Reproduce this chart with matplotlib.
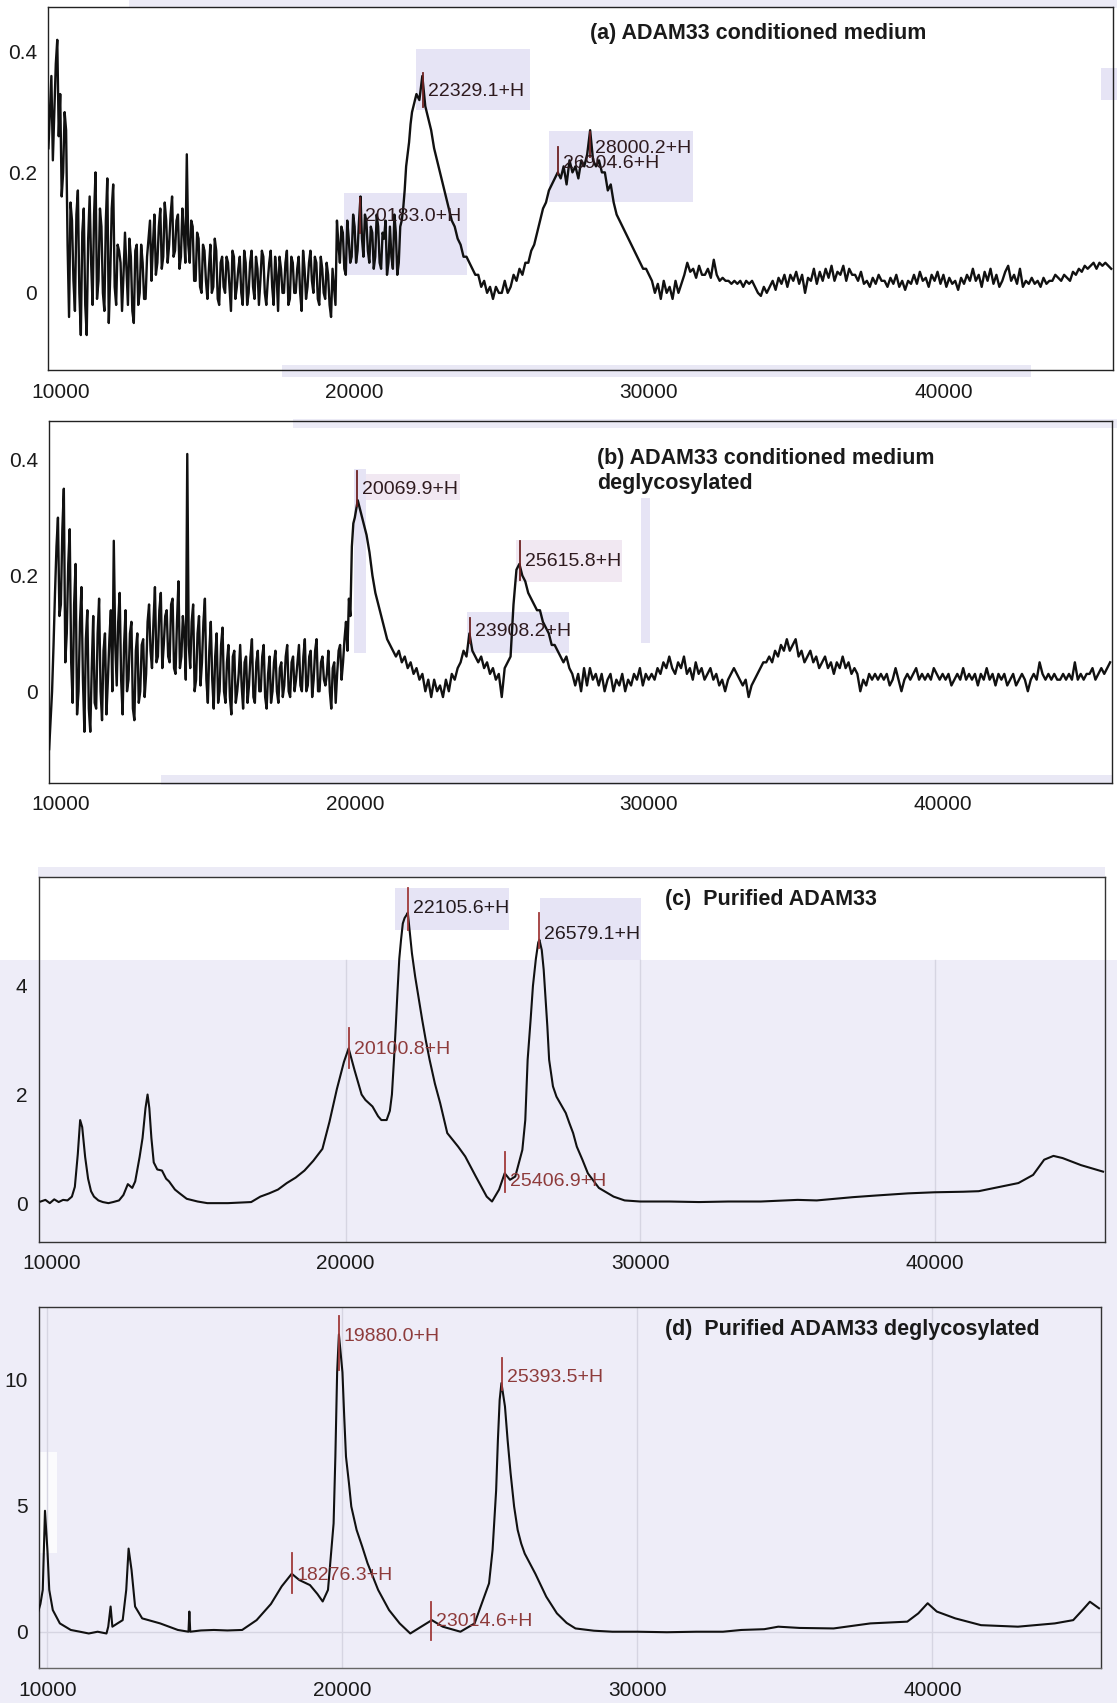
import numpy as np
import matplotlib
matplotlib.use("Agg")
import matplotlib.pyplot as plt
from matplotlib.patches import Rectangle

plt.rcParams['font.family'] = ['Liberation Sans', 'DejaVu Sans']

# ---------------------------------------------------------------- data
# (a) conditioned medium, sampled every 100 Da from 9600 Da
a_start, a_step = 9600, 100
a_rows = [
    [0.24, 0.36, 0.30, 0.42],
    [0.33, 0.20, 0.27, -0.04, 0.12, -0.03, 0.17, -0.07, 0.14, -0.07],
    [0.16, -0.02, 0.20, 0.02, 0.11, -0.03, 0.19, 0.03, 0.18, -0.02],
    [0.07, -0.03, 0.10, -0.02, 0.06, -0.05, 0.08, 0.00, 0.05, -0.01],
    [0.09, 0.02, 0.13, 0.05, 0.14, 0.06, 0.12, 0.08, 0.16, 0.07],
    [0.13, 0.06, 0.10, 0.23, 0.05, 0.11, 0.02, 0.09, 0.00, 0.07],
    [-0.01, 0.08, 0.01, 0.07, -0.02, 0.06, 0.00, 0.05, -0.03, 0.06],
    [0.01, 0.06, -0.02, 0.05, 0.00, 0.07, -0.01, 0.04, 0.02, 0.06],
    [-0.02, 0.05, 0.01, 0.06, -0.03, 0.04, 0.00, 0.07, -0.01, 0.05],
    [0.00, 0.06, -0.03, 0.04, 0.01, 0.07, 0.00, 0.05, -0.02, 0.04],
    [-0.01, 0.03, -0.04, 0.01, 0.12, 0.05, 0.10, 0.03, 0.09, 0.06],
    [0.11, 0.07, 0.16, 0.06, 0.12, 0.05, 0.10, 0.06, 0.11, 0.04],
    [0.09, 0.03, 0.11, 0.04, 0.10, 0.05, 0.12, 0.17, 0.23, 0.28],
    [0.31, 0.33, 0.32, 0.36, 0.31, 0.29, 0.27, 0.24, 0.22, 0.20],
    [0.18, 0.16, 0.14, 0.12, 0.11, 0.09, 0.08, 0.06, 0.06, 0.05],
    [0.04, 0.03, 0.03, 0.01, 0.02, 0.00, 0.01, -0.01, 0.01, 0.00],
    [0.00, 0.02, 0.00, 0.01, 0.03, 0.02, 0.04, 0.03, 0.05, 0.05],
    [0.07, 0.08, 0.10, 0.12, 0.14, 0.15, 0.17, 0.18, 0.19, 0.20],
    [0.19, 0.21, 0.18, 0.22, 0.20, 0.21, 0.19, 0.22, 0.21, 0.23],
    [0.27, 0.22, 0.21, 0.22, 0.20, 0.20, 0.17, 0.18, 0.15, 0.13],
    [0.12, 0.11, 0.10, 0.09, 0.08, 0.07, 0.06, 0.05, 0.04, 0.04],
    [0.03, 0.02, 0.00, 0.015, -0.01, 0.02, 0.00, 0.01, -0.01, 0.02],
    [0.00, 0.015, 0.03, 0.05, 0.035, 0.04, 0.025, 0.045, 0.03, 0.03],
    [0.04, 0.025, 0.055, 0.03, 0.02, 0.025, 0.02, 0.02, 0.015, 0.02],
    [0.015, 0.02, 0.01, 0.02, 0.015, 0.02, 0.01, 0.00, -0.005, 0.01],
    [0.00, 0.01, 0.02, 0.005, 0.025, 0.015, 0.03, 0.01, 0.03, 0.02],
    [0.035, 0.015, 0.03, 0.00, 0.025, 0.02, 0.04, 0.015, 0.035, 0.02],
    [0.04, 0.025, 0.045, 0.02, 0.035, 0.03, 0.045, 0.02, 0.04, 0.03],
    [0.03, 0.02, 0.035, 0.015, 0.02, 0.01, 0.025, 0.015, 0.03, 0.02],
    [0.02, 0.01, 0.025, 0.015, 0.03, 0.01, 0.02, 0.005, 0.02, 0.015],
    [0.03, 0.015, 0.035, 0.02, 0.025, 0.01, 0.03, 0.02, 0.035, 0.015],
    [0.03, 0.01, 0.025, 0.015, 0.02, 0.005, 0.025, 0.015, 0.03, 0.02],
    [0.04, 0.02, 0.03, 0.01, 0.035, 0.02, 0.04, 0.015, 0.03, 0.01],
    [0.02, 0.035, 0.045, 0.02, 0.03, 0.015, 0.04, 0.01, 0.02, 0.015],
    [0.025, 0.015, 0.02, 0.01, 0.025, 0.015, 0.02, 0.02, 0.03, 0.025],
    [0.02, 0.03, 0.025, 0.02, 0.035, 0.03, 0.04, 0.035, 0.045, 0.04],
    [0.045, 0.05, 0.04, 0.05, 0.045, 0.05, 0.045, 0.04],
]
# (a) extra readings in the noisy low-mass region, every 100 Da from 9650 Da
a_fine_start = 9650
a_fine_rows = [
    [0.30, 0.22, 0.38, 0.26],
    [0.16, 0.30, 0.08, 0.15, 0.02, 0.13, 0.00, 0.10, -0.02, 0.09],
    [0.05, 0.13, -0.01, 0.14, 0.00, 0.12, -0.05, 0.14, 0.01, 0.08],
    [0.05, 0.03, 0.04, 0.09, -0.03, 0.07, -0.02, 0.08, -0.01, 0.06],
    [0.12, 0.08, 0.03, 0.11, 0.04, 0.15, 0.05, 0.13, 0.06, 0.12],
    [0.04, 0.14, 0.05, 0.08, 0.12, 0.02, 0.10, 0.01, 0.08, 0.02],
    [0.04, 0.00, 0.09, -0.01, 0.05, 0.01, 0.06, 0.01, 0.07, -0.01],
    [0.04, 0.00, 0.07, -0.02, 0.05, 0.01, 0.06, -0.02, 0.07, 0.00],
    [0.02, 0.07, -0.02, 0.03, 0.06, 0.00, 0.05, -0.02, 0.06, 0.00],
    [0.04, 0.00, 0.07, -0.01, 0.05, 0.02, 0.06, -0.01, 0.06, 0.00],
    [0.05, -0.02, 0.04, -0.02, 0.08, 0.11, 0.04, 0.12, 0.05, 0.13],
    [0.05, 0.12, 0.09, 0.13, 0.07, 0.11, 0.04, 0.13, 0.05, 0.10],
    [0.12, 0.05, 0.06, 0.13, 0.03, 0.11, 0.14, 0.21, 0.25, 0.30],
]

# (b) conditioned medium, deglycosylated, sampled every 100 Da from 9600 Da
b_start, b_step = 9600, 100
b_rows = [
    [-0.10, 0.00, 0.17, 0.30],
    [0.15, 0.35, 0.10, 0.28, -0.02, 0.22, 0.00, 0.18, -0.07, 0.14],
    [-0.07, 0.13, -0.03, 0.16, -0.05, 0.10, 0.02, 0.14, 0.26, 0.01],
    [0.17, -0.04, 0.14, 0.02, 0.12, -0.05, 0.10, 0.00, 0.09, 0.03],
    [0.15, 0.04, 0.18, 0.06, 0.17, 0.08, 0.14, 0.05, 0.16, 0.03],
    [0.19, 0.06, 0.10, 0.41, 0.04, 0.15, 0.02, 0.13, 0.05, 0.16],
    [-0.02, 0.12, -0.03, 0.10, 0.00, 0.11, -0.02, 0.08, -0.04, 0.07],
    [0.00, 0.08, -0.03, 0.06, 0.01, 0.09, -0.02, 0.07, 0.00, 0.08],
    [-0.03, 0.06, 0.00, 0.07, -0.02, 0.05, 0.01, 0.08, -0.01, 0.06],
    [0.02, 0.08, 0.00, 0.09, 0.01, 0.07, 0.02, 0.09, 0.00, 0.06],
    [0.01, 0.07, -0.03, 0.05, 0.03, 0.08, 0.05, 0.12, 0.16, 0.25],
    [0.30, 0.33, 0.31, 0.29, 0.27, 0.24, 0.20, 0.17, 0.15, 0.13],
    [0.11, 0.09, 0.08, 0.07, 0.06, 0.07, 0.05, 0.06, 0.04, 0.05],
    [0.03, 0.04, 0.02, 0.03, 0.00, 0.02, -0.01, 0.02, 0.00, 0.01],
    [-0.01, 0.02, 0.00, 0.03, 0.02, 0.04, 0.05, 0.07, 0.06, 0.10],
    [0.07, 0.06, 0.05, 0.06, 0.04, 0.05, 0.03, 0.04, 0.02, 0.03],
    [-0.01, 0.04, 0.05, 0.06, 0.15, 0.21, 0.22, 0.20, 0.19, 0.17],
    [0.16, 0.15, 0.14, 0.14, 0.12, 0.11, 0.10, 0.08, 0.08, 0.07],
    [0.06, 0.05, 0.06, 0.04, 0.03, 0.01, 0.03, 0.00, 0.04, 0.01],
    [0.04, 0.02, 0.03, 0.01, 0.03, 0.00, 0.02, 0.03, 0.00, 0.02],
    [0.01, 0.03, 0.00, 0.02, 0.01, 0.03, 0.02, 0.04, 0.01, 0.03],
    [0.02, 0.03, 0.02, 0.04, 0.03, 0.05, 0.04, 0.06, 0.04, 0.03],
    [0.05, 0.04, 0.06, 0.03, 0.04, 0.02, 0.05, 0.03, 0.04, 0.02],
    [0.03, 0.04, 0.02, 0.03, 0.01, 0.02, 0.00, 0.02, 0.03, 0.04],
    [0.03, 0.02, 0.01, 0.02, -0.01, 0.01, 0.02, 0.03, 0.04, 0.05],
    [0.05, 0.06, 0.05, 0.07, 0.06, 0.08, 0.07, 0.09, 0.07, 0.08],
    [0.09, 0.06, 0.07, 0.05, 0.06, 0.07, 0.05, 0.06, 0.04, 0.05],
    [0.06, 0.04, 0.05, 0.03, 0.05, 0.04, 0.06, 0.04, 0.05, 0.03],
    [0.04, 0.03, 0.00, 0.02, 0.01, 0.03, 0.02, 0.03, 0.02, 0.03],
    [0.02, 0.03, 0.01, 0.02, 0.04, 0.02, 0.00, 0.02, 0.03, 0.02],
    [0.03, 0.04, 0.02, 0.03, 0.02, 0.03, 0.02, 0.04, 0.03, 0.02],
    [0.03, 0.02, 0.03, 0.01, 0.02, 0.03, 0.02, 0.04, 0.02, 0.03],
    [0.02, 0.03, 0.01, 0.03, 0.02, 0.04, 0.02, 0.03, 0.01, 0.03],
    [0.02, 0.03, 0.01, 0.02, 0.03, 0.01, 0.02, 0.03, 0.02, 0.00],
    [0.02, 0.03, 0.02, 0.05, 0.03, 0.02, 0.03, 0.02, 0.03, 0.02],
    [0.02, 0.03, 0.02, 0.03, 0.02, 0.05, 0.02, 0.03, 0.02, 0.03],
    [0.03, 0.04, 0.02, 0.03, 0.04, 0.03, 0.04, 0.05],
]
# (b) extra readings in the noisy low-mass region, every 100 Da from 9650 Da
b_fine_start = 9650
b_fine_rows = [
    [-0.05, 0.08, 0.25, 0.13],
    [0.28, 0.05, 0.22, 0.05, 0.15, -0.04, 0.12, 0.02, 0.09, -0.03],
    [0.04, -0.02, 0.10, 0.00, 0.07, -0.04, 0.09, 0.00, 0.08, 0.12],
    [0.02, 0.08, 0.00, 0.10, -0.03, 0.07, -0.02, 0.08, -0.01, 0.12],
    [0.07, 0.12, 0.05, 0.14, 0.04, 0.13, 0.06, 0.15, 0.04, 0.12],
    [0.04, 0.13, 0.02, 0.08, 0.12, 0.00, 0.10, 0.01, 0.12, 0.02],
    [0.07, 0.02, 0.06, -0.02, 0.08, 0.00, 0.05, -0.01, 0.06, -0.02],
    [0.03, 0.01, 0.05, -0.02, 0.06, -0.01, 0.05, 0.00, 0.06, -0.01],
    [0.03, -0.02, 0.05, 0.00, 0.04, -0.01, 0.06, 0.00, 0.05, 0.00],
    [0.05, 0.01, 0.06, 0.00, 0.06, -0.01, 0.07, 0.00, 0.05, 0.02],
    [0.03, 0.00, 0.04, -0.02, 0.07, 0.02, 0.09, 0.07, 0.13, 0.29],
]

# (c) purified ADAM33
c_mass = [9640, 9800, 9950, 10100, 10250, 10400, 10550, 10700, 10800, 10900,
          10980, 11050, 11150, 11250, 11350, 11450, 11600, 11750, 11940, 12100,
          12300, 12450, 12600, 12750, 12850, 13000, 13100, 13200, 13270, 13330,
          13400, 13480, 13600, 13760, 13900, 14000, 14200, 14360, 14600, 14970,
          15300, 15600, 16000, 16400, 16790, 17100, 17400, 17700, 18000, 18300,
          18600, 18900, 19210, 19450, 19700, 19940, 20100, 20300, 20540, 20670,
          20910, 21100, 21210, 21390, 21500, 21570, 21640, 21700, 21760, 21820,
          21880, 21940, 22000, 22060, 22110, 22180, 22250, 22360, 22470, 22600,
          22720, 22850, 23030, 23210, 23450, 23820, 24060, 24420, 24790, 24970,
          25210, 25400, 25580, 25760, 26000, 26100, 26180, 26280, 26360, 26460,
          26540, 26580, 26660, 26725, 26850, 26910, 27040, 27160, 27350, 27475,
          27600, 27725, 27850, 28040, 28225, 28600, 29100, 29475, 30000, 31000,
          32000, 33000, 34100, 35350, 36000, 37225, 38000, 39100, 40000, 40975,
          41500, 42225, 42850, 43350, 43725, 44040, 44350, 44975, 45725]
c_int = [0.03, 0.06, 0.00, 0.07, 0.02, 0.06, 0.05, 0.12, 0.30, 0.90,
         1.53, 1.40, 0.85, 0.45, 0.22, 0.12, 0.05, 0.02, 0.00, 0.02,
         0.05, 0.15, 0.35, 0.28, 0.40, 0.85, 1.20, 1.75, 2.00, 1.75,
         1.20, 0.75, 0.62, 0.60, 0.45, 0.40, 0.25, 0.18, 0.08, 0.03,
         0.00, 0.00, 0.00, 0.01, 0.02, 0.12, 0.18, 0.25, 0.37, 0.47,
         0.60, 0.78, 1.00, 1.50, 2.10, 2.60, 2.85, 2.45, 2.00, 1.90,
         1.78, 1.60, 1.53, 1.53, 1.70, 2.00, 2.64, 3.25, 3.90, 4.50,
         4.85, 5.15, 5.25, 5.30, 5.35, 4.97, 4.60, 4.17, 3.80, 3.37,
         3.00, 2.64, 2.20, 1.84, 1.29, 1.04, 0.86, 0.49, 0.12, 0.03,
         0.25, 0.55, 0.43, 0.49, 0.98, 1.53, 2.64, 3.37, 4.00, 4.50,
         4.80, 4.85, 4.66, 4.30, 3.25, 2.64, 2.15, 1.96, 1.78, 1.66,
         1.47, 1.29, 1.04, 0.80, 0.55, 0.28, 0.12, 0.05, 0.03, 0.03,
         0.02, 0.03, 0.03, 0.06, 0.05, 0.11, 0.14, 0.18, 0.20, 0.21,
         0.22, 0.30, 0.37, 0.52, 0.80, 0.87, 0.83, 0.70, 0.58]

# (d) purified ADAM33, deglycosylated
d_mass = [9670, 9760, 9840, 9915, 10000, 10060, 10180, 10420, 10790, 11100,
          11400, 11700, 12000, 12060, 12140, 12200, 12400, 12550, 12670, 12750,
          12850, 12970, 13210, 13820, 14420, 14780, 14810, 14840, 15200, 15640,
          16100, 16600, 17090, 17575, 17940, 18280, 18540, 18900, 19150, 19330,
          19510, 19700, 19760, 19820, 19880, 20000, 20060, 20120, 20220, 20300,
          20480, 20670, 20850, 21030, 21210, 21580, 21940, 22300, 22670, 23030,
          23400, 24000, 24480, 24970, 25090, 25210, 25270, 25330, 25390, 25510,
          25600, 25700, 25820, 25940, 26060, 26180, 26360, 26540, 26910, 27270,
          27600, 27900, 28525, 29150, 30000, 31000, 32000, 32900, 33525, 34300,
          34775, 35500, 36650, 37900, 39150, 39525, 39840, 40150, 40775, 41650,
          42900, 44150, 44775, 45090, 45340, 45650]
d_int = [0.73, 1.10, 1.66, 4.80, 3.20, 1.66, 0.86, 0.33, 0.07, 0.00,
         -0.07, 0.00, -0.07, 0.20, 1.00, 0.20, 0.35, 0.46, 1.66, 3.30,
         2.45, 1.00, 0.53, 0.33, 0.07, 0.00, 0.80, 0.00, 0.05, 0.07,
         0.05, 0.07, 0.46, 1.10, 1.80, 2.30, 2.05, 1.85, 1.50, 1.20,
         1.66, 4.30, 6.95, 10.30, 11.80, 10.30, 8.54, 6.95, 5.90, 4.97,
         4.04, 3.38, 2.72, 2.19, 1.66, 0.86, 0.33, -0.07, 0.20, 0.46,
         0.20, 0.00, 0.33, 1.92, 3.25, 5.60, 7.60, 9.20, 9.87, 8.94,
         7.60, 6.30, 4.97, 4.04, 3.50, 3.10, 2.70, 2.30, 1.39, 0.73,
         0.35, 0.13, 0.04, 0.00, 0.00, -0.02, 0.00, 0.00, 0.07, 0.10,
         0.20, 0.15, 0.13, 0.33, 0.40, 0.73, 1.13, 0.80, 0.53, 0.26,
         0.20, 0.33, 0.46, 0.86, 1.19, 0.93]

# peak annotations: (mass, label, marker bottom, marker top, text y)
a_peaks = [(22329.1, "22329.1+H", 0.308, 0.365, 0.334),
           (20183.0, "20183.0+H", 0.099, 0.158, 0.126),
           (28000.2, "28000.2+H", 0.226, 0.267, 0.240),
           (26904.6, "26904.6+H", 0.198, 0.242, 0.215)]
b_peaks = [(20069.9, "20069.9+H", 0.320, 0.380, 0.348),
           (25615.8, "25615.8+H", 0.193, 0.259, 0.225),
           (23908.2, "23908.2+H", 0.084, 0.127, 0.104)]
c_peaks = [(22105.6, "22105.6+H", 5.03, 5.80, 5.43),
           (26579.1, "26579.1+H", 4.70, 5.34, 4.94),
           (20100.8, "20100.8+H", 2.49, 3.22, 2.82),
           (25406.9, "25406.9+H", 0.21, 0.95, 0.40)]
d_peaks = [(19880.0, "19880.0+H", 10.4, 12.52, 11.72),
           (25393.5, "25393.5+H", 9.6, 10.87, 10.10),
           (18276.3, "18276.3+H", 1.53, 3.12, 2.25),
           (23014.6, "23014.6+H", -0.33, 1.19, 0.40)]

x_ticks = [10000, 20000, 30000, 40000]
x_tick_labels = ["10000", "20000", "30000", "40000"]
a_yticks, a_ylabels = [0, 0.2, 0.4], ["0", "0.2", "0.4"]
c_yticks, c_ylabels = [0, 2, 4], ["0", "2", "4"]
d_yticks, d_ylabels = [0, 5, 10], ["0", "5", "10"]

# ---------------------------------------------------------------- figure
W, H = 1117, 1703
fig = plt.figure(figsize=(W / 100, H / 100), dpi=100)
fig.patch.set_facecolor("white")

LAV = "#eeedf8"
BOX = "#e6e4f5"
PINK = "#f1e8f2"


def px_rect(x0, y0, x1, y1, color, z=-1.0):
    fig.patches.append(Rectangle((x0 / W, 1 - y1 / H), (x1 - x0) / W, (y1 - y0) / H,
                                 transform=fig.transFigure, facecolor=color,
                                 edgecolor="none", zorder=z))


def px_axes(left, top, right, bottom):
    ax = fig.add_axes([left / W, 1 - bottom / H, (right - left) / W, (bottom - top) / H])
    ax.set_facecolor("none")
    return ax


# tinted lower part of the sheet
px_rect(0, 960, W, H, LAV, z=-2)
px_rect(38.6, 877.3, 1105, 960, "white", z=-1.5)
px_rect(38.6, 1452, 57, 1553, "#fbfbfd", z=-1.4)

# shaded strips and label boxes
px_rect(129, 0, W, 8, "#ecebf6")
px_rect(282, 365, 1031, 377, "#e9e8f5")
px_rect(1101, 68, 1117, 100, BOX)
px_rect(416, 49, 530, 110, BOX)
px_rect(344, 193, 467, 275, BOX)
px_rect(549, 131, 693, 202, BOX)
px_rect(293, 419, W, 428, "#ecebf6")
px_rect(161, 775, 1112, 785, "#e9e8f5")
px_rect(353.6, 469, 366, 653, BOX)
px_rect(366, 474, 460, 500, PINK)
px_rect(516, 540, 622, 582, PINK)
px_rect(467, 612, 569, 653, BOX)
px_rect(641, 498, 650, 643, BOX)
px_rect(37.5, 867, 1105, 877, "#ecebf6")
px_rect(394.6, 888, 509, 930, BOX)
px_rect(540, 898, 641, 960, BOX)


def style(ax, xlim, ylim, yticks, ylabels, spine="#222222"):
    ax.set_xlim(*xlim)
    ax.set_ylim(*ylim)
    ax.set_xticks(x_ticks)
    ax.set_xticklabels(x_tick_labels)
    ax.set_yticks(yticks)
    ax.set_yticklabels(ylabels)
    ax.tick_params(axis="x", length=0, pad=9, labelsize=15, colors="#1a1a1a")
    ax.tick_params(axis="y", length=0, pad=8, labelsize=15, colors="#1a1a1a")
    for s in ax.spines.values():
        s.set_color(spine)
        s.set_linewidth(1.0)


def peaks(ax, items, mcol, tcol, size=14, tcols=None):
    for i, (m, lab, lo, hi, ty) in enumerate(items):
        ax.plot([m, m], [lo, hi], color=mcol, lw=1.3, zorder=4)
        col = tcols[i] if tcols else tcol
        ax.annotate(lab, xy=(m, ty), xytext=(5, 0), textcoords="offset pixels",
                    ha="left", va="center", fontsize=size, color=col, zorder=5)


def trace(start, step, rows, fine_start, fine_rows):
    vals = np.concatenate([np.asarray(r, dtype=float) for r in rows])
    mass = start + step * np.arange(vals.size)
    fvals = np.concatenate([np.asarray(r, dtype=float) for r in fine_rows])
    fmass = fine_start + step * np.arange(fvals.size)
    m = np.concatenate([mass, fmass])
    v = np.concatenate([vals, fvals])
    order = np.argsort(m, kind="stable")
    return m[order], v[order]


# (a)
ax_a = px_axes(48.2, 6.7, 1113.4, 370)
ma, va = trace(a_start, a_step, a_rows, a_fine_start, a_fine_rows)
ax_a.plot(ma, va, color="#111111", lw=1.7, zorder=3)
style(ax_a, (9592, 45774), (-0.128, 0.475), a_yticks, a_ylabels)
peaks(ax_a, a_peaks, "#6e2222", "#2e1a1e")
ax_a.text(589.7 / W, 1 - 33.3 / H, "(a) ADAM33 conditioned medium", transform=fig.transFigure,
          fontsize=15.5, fontweight="bold", color="#1a1a1a", va="center", ha="left")

# (b)
ax_b = px_axes(48.9, 421, 1112.3, 782.7)
mb, vb = trace(b_start, b_step, b_rows, b_fine_start, b_fine_rows)
ax_b.plot(mb, vb, color="#111111", lw=1.7, zorder=3)
style(ax_b, (9592, 45774), (-0.158, 0.467), a_yticks, a_ylabels)
peaks(ax_b, b_peaks, "#6e2222", "#2e1a1e")
ax_b.text(597 / W, 1 - 458.3 / H, "(b) ADAM33 conditioned medium", transform=fig.transFigure,
          fontsize=15.5, fontweight="bold", color="#1a1a1a", va="center", ha="left")
ax_b.text(597 / W, 1 - 484 / H, "deglycosylated", transform=fig.transFigure,
          fontsize=15.5, fontweight="bold", color="#1a1a1a", va="center", ha="left")

# (c)
ax_c = px_axes(38.6, 877.3, 1105, 1241.7)
grid_top_c = (1241.7 - 960) / (1241.7 - 877.3)
for gx in [20000, 30000, 40000]:
    ax_c.axvline(gx, ymin=0, ymax=grid_top_c, color="#d6d5e2", lw=1.0, zorder=1)
ax_c.plot(c_mass, c_int, color="#111111", lw=1.5, zorder=3)
style(ax_c, (9569, 45791), (-0.71, 6.0), c_yticks, c_ylabels, spine="#333333")
peaks(ax_c, c_peaks, "#a03a3a", None, size=14,
      tcols=["#241a1e", "#241a1e", "#8e3b3b", "#8e3b3b"])
ax_c.text(665 / W, 1 - 900 / H, "(c)  Purified ADAM33", transform=fig.transFigure,
          fontsize=15.5, fontweight="bold", color="#1a1a1a", va="center", ha="left")

# (d)
ax_d = px_axes(38.6, 1306.7, 1101.3, 1668)
for gx in x_ticks:
    ax_d.axvline(gx, color="#d6d5e2", lw=1.0, zorder=1)
ax_d.axhline(0, color="#d6d5e2", lw=1.0, zorder=1)
ax_d.plot(d_mass, d_int, color="#111111", lw=1.5, zorder=3)
style(ax_d, (9699, 45727), (-1.44, 12.9), d_yticks, d_ylabels, spine="#333333")
ax_d.spines["bottom"].set_color("#666666")
peaks(ax_d, d_peaks, "#a03a3a", "#8e3b3b", size=14)
ax_d.text(665 / W, 1 - 1329 / H, "(d)  Purified ADAM33 deglycosylated", transform=fig.transFigure,
          fontsize=15.5, fontweight="bold", color="#1a1a1a", va="center", ha="left")

fig.savefig("out.png", dpi=100)
